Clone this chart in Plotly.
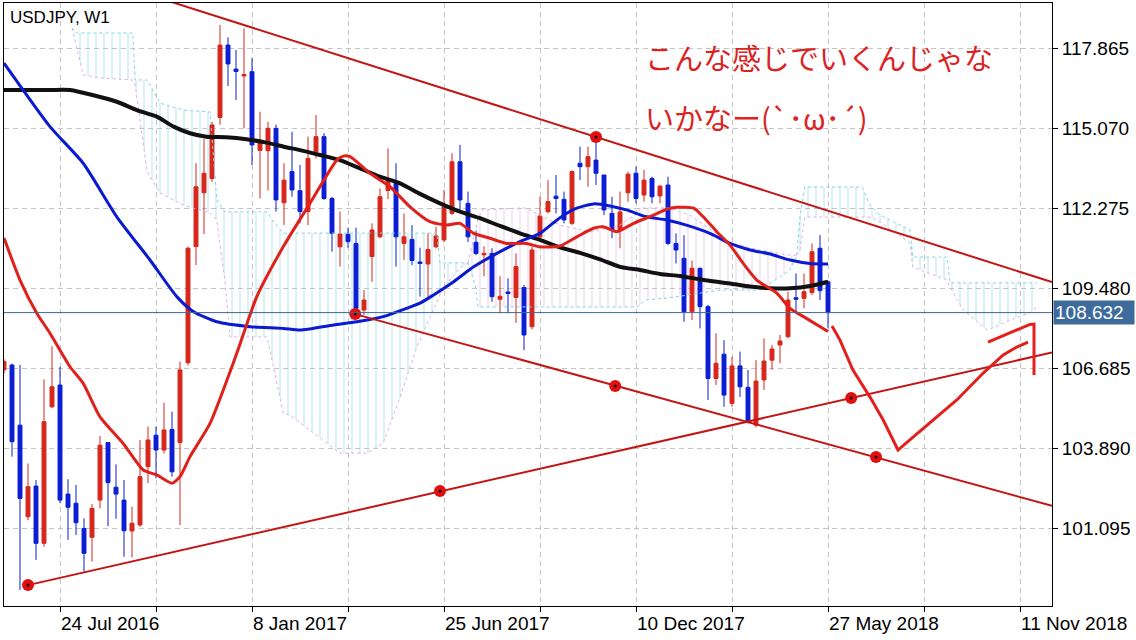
import plotly.graph_objects as go

# weekly bars, index 0 = week of 24 Jul 2016
bar_idx = list(range(-7, 97))
opens = [106.63, 106.80, 104.70, 101.50, 102.57, 100.57, 105.34,
         106.10, 102.29, 101.97, 101.09, 100.78, 102.08, 104.09, 102.53, 102.08, 101.00,
         101.21, 103.25, 104.35, 103.83, 104.55, 104.09, 106.88, 110.94, 112.82, 113.32,
         115.45, 117.98, 117.14, 116.90, 117.05, 114.30, 114.29, 115.07, 112.47, 113.56,
         112.89, 112.16, 114.25, 114.78, 112.62, 110.93, 111.37, 111.05, 108.72, 110.59,
         111.28, 112.90, 113.15, 111.05, 111.19, 110.40, 110.33, 110.93, 111.17, 112.10,
         113.90, 112.45, 111.09, 110.65, 110.70, 109.10, 109.35, 109.16, 109.51, 108.14,
         111.28, 112.16, 112.70, 112.59, 111.75, 113.85, 113.73, 113.96, 113.44, 112.10,
         111.52, 112.82, 113.50, 112.74, 113.32, 112.71, 113.09, 111.05, 110.53, 108.66,
         110.18, 108.84, 106.33, 107.18, 105.46, 106.77, 106.02, 104.70, 106.28, 106.97,
         107.50, 107.79, 109.15, 109.13, 109.33, 110.88, 109.71]
highs = [107.00, 106.85, 106.80, 103.36, 102.78, 106.30, 107.46,
         106.74, 102.81, 102.61, 101.44, 101.94, 104.32, 104.10, 103.33, 102.78, 101.85,
         104.18, 104.65, 104.65, 105.48, 105.17, 106.92, 110.94, 113.85, 114.70, 115.30,
         118.68, 118.25, 117.81, 118.56, 117.52, 115.65, 115.30, 115.20, 113.85, 114.95,
         113.79, 114.78, 115.54, 114.90, 112.68, 112.16, 111.60, 111.60, 109.42, 111.75,
         112.97, 114.37, 113.85, 112.10, 111.69, 110.90, 111.40, 111.63, 112.92, 114.20,
         114.49, 112.86, 111.50, 110.95, 110.88, 109.90, 109.83, 110.70, 109.60, 110.95,
         112.68, 113.26, 113.44, 112.86, 113.60, 114.43, 114.43, 114.77, 113.44, 112.68,
         112.86, 113.56, 113.73, 113.62, 113.38, 113.09, 113.38, 111.40, 111.34, 110.45,
         110.20, 108.90, 107.91, 107.67, 107.09, 107.27, 106.63, 106.97, 107.73, 107.50,
         107.85, 109.36, 110.00, 110.00, 111.05, 111.34, 109.75]
lows = [106.50, 103.60, 98.94, 101.38, 99.99, 100.45, 105.30,
        101.97, 100.69, 100.86, 99.58, 99.93, 101.79, 101.17, 101.43, 100.10, 100.08,
        101.15, 102.67, 102.84, 103.71, 102.90, 101.21, 106.79, 110.29, 111.38, 113.20,
        115.20, 116.55, 116.06, 115.07, 113.79, 112.62, 112.90, 112.16, 111.69, 112.68,
        111.75, 111.69, 114.02, 112.57, 110.76, 110.24, 110.90, 108.72, 108.55, 109.71,
        111.23, 112.60, 110.24, 110.47, 110.29, 109.19, 109.07, 110.88, 111.10, 112.04,
        112.22, 111.10, 110.64, 109.90, 109.01, 108.61, 108.61, 108.27, 107.32, 108.05,
        111.17, 112.10, 112.10, 111.75, 111.69, 113.26, 113.03, 113.09, 112.04, 111.23,
        110.88, 112.51, 112.45, 112.51, 112.45, 112.45, 110.99, 110.35, 108.31, 108.37,
        108.08, 105.58, 106.10, 105.34, 105.34, 105.69, 104.76, 104.62, 105.93, 106.63,
        106.86, 107.73, 108.65, 108.78, 109.25, 109.07, 108.10]
closes = [106.92, 104.12, 102.14, 102.55, 100.57, 104.82, 106.04,
          102.08, 101.83, 101.29, 100.22, 101.79, 104.00, 102.69, 102.29, 101.01, 101.27,
          102.90, 104.18, 103.83, 104.53, 103.07, 106.63, 110.88, 113.03, 113.50, 115.19,
          117.98, 117.32, 117.06, 116.95, 114.49, 114.60, 115.07, 112.57, 113.26, 112.92,
          112.16, 114.02, 114.78, 112.62, 111.40, 111.38, 111.11, 108.78, 109.07, 111.52,
          112.68, 113.30, 111.28, 111.28, 110.45, 110.35, 110.84, 111.31, 112.33, 113.90,
          112.57, 111.28, 110.70, 110.70, 109.19, 109.20, 109.30, 110.24, 107.85, 110.82,
          112.01, 112.51, 112.62, 111.87, 113.56, 113.73, 114.08, 113.50, 112.22, 111.52,
          112.15, 113.47, 112.62, 113.26, 112.68, 113.05, 111.05, 110.82, 108.66, 110.18,
          108.84, 106.33, 106.86, 105.75, 106.77, 106.04, 104.82, 106.24, 106.94, 107.36,
          107.64, 109.07, 109.10, 109.36, 110.76, 109.40, 108.632]

# moving averages
ma_red_x = [-7, -5, -2.9, -1.25, 1.25, 2.9, 5, 7.9, 10.4, 12.1, 14, 15, 16.25, 18.75,
            22.1, 24.6, 27.9, 31.25, 34.6, 35.4, 36.25, 38.75, 41.25, 43.75, 46.25, 48.3,
            50, 51.7, 53.75, 55.8, 58.3, 60, 62.5, 64.6, 66.7, 67.9, 69.6, 71.7, 74.2,
            75.8, 77.1, 79.2, 80.4, 82.1, 83.75, 85.4, 87.1, 89.6, 91.25, 93.3, 96]
ma_red_y = [111.24, 109.77, 108.61, 107.91, 106.74, 106.16, 104.99, 104.06, 103.13,
            102.96, 102.67, 102.90, 103.60, 104.76, 107.21, 109.19, 110.93, 112.45,
            113.96, 114.10, 114.08, 113.50, 113.03, 112.33, 111.81, 111.69, 111.75,
            111.40, 111.23, 111.05, 111.05, 110.93, 110.96, 111.28, 111.58, 111.63,
            111.46, 111.75, 112.04, 112.24, 112.31, 112.28, 111.98, 111.46, 110.99,
            110.35, 109.77, 109.31, 108.78, 108.43, 107.97]
ma_blue_x = [-7, -1.25, 2.9, 7.1, 11.25, 14.6, 16.7, 19.6, 23.75, 27.9, 30, 34.2, 37.1,
             40.4, 43.3, 45, 46.7, 49.2, 51.7, 54.6, 57.5, 60, 62.5, 64.6, 66.7, 68.75,
             70.8, 73.3, 75.8, 78.3, 81.25, 83.75, 86.25, 88.75, 91.25, 93.75, 96]
ma_blue_y = [117.35, 115.13, 113.85, 111.98, 110.47, 109.19, 108.66, 108.31, 108.14,
             108.08, 108.02, 108.20, 108.31, 108.49, 108.78, 108.96, 109.25, 109.71,
             110.23, 110.70, 111.11, 111.40, 111.95, 112.28, 112.43, 112.36, 112.22,
             111.98, 111.87, 111.69, 111.40, 111.05, 110.82, 110.68, 110.47, 110.35, 110.33]
ma_black_x = [-7, -1.25, 1.25, 7.1, 9.6, 12.1, 14.2, 16.25, 18.3, 20.8, 23.3, 25.8, 28.1,
              30, 32.5, 35, 37.5, 40, 42.5, 45, 47.5, 50, 52.5, 55, 57.5, 60, 62.5, 65,
              67.5, 70, 72.5, 75, 77.5, 80, 83.75, 86.25, 88.75, 91.25, 93.75, 96]
ma_black_y = [116.41, 116.41, 116.41, 116.00, 115.71, 115.48, 115.13, 114.90, 114.78,
              114.76, 114.69, 114.57, 114.42, 114.31, 114.14, 113.96, 113.67, 113.38,
              113.15, 112.78, 112.45, 112.16, 111.93, 111.66, 111.40, 111.17, 110.91,
              110.72, 110.49, 110.23, 110.12, 109.98, 109.91, 109.79, 109.65, 109.54,
              109.48, 109.48, 109.56, 109.71]

# ichimoku cloud: three regions, span A / span B
cloud1_x = [1.5, 2, 2.9, 5, 9.1, 9.4, 10.9, 12.5, 15.4, 18.75, 19.6, 20.6, 21.25, 25.9,
            26.5, 27.9, 28.75, 35, 38.4, 40.4, 42.5, 44.6, 46.25, 47.1, 47.5, 48.75, 50, 51]
cloud1_a = [118.58, 118.40, 118.40, 118.40, 118.40, 116.76, 116.76, 115.95, 115.71, 115.64,
            112.57, 112.15, 112.15, 112.15, 111.87, 111.41, 111.41, 111.41, 111.41, 111.41,
            111.41, 111.41, 111.41, 111.41, 110.37, 110.37, 110.37, 110.37]
cloud1_b = [118.58, 117.98, 116.94, 116.83, 116.76, 116.58, 113.54, 112.81, 112.39, 112.11,
            111.87, 109.77, 107.78, 107.78, 106.97, 105.12, 105.05, 103.72, 103.72, 104.07,
            105.68, 107.43, 108.48, 109.00, 109.25, 109.77, 110.19, 110.37]
cloud2_x = [51, 51.9, 52.25, 52.75, 58.1, 60, 62.5, 66.25, 70, 72.1, 72.5, 73.1, 76.25,
            78.75, 80, 82.5, 83.75, 87.5, 91.25, 92.1]
cloud2_b = [110.37, 111.52, 111.90, 112.22, 112.29, 112.04, 111.69, 111.45, 111.69, 112.10,
            112.29, 112.29, 112.29, 112.04, 111.80, 111.30, 111.06, 110.82, 110.64, 110.64]
cloud2_a = [110.37, 109.59, 108.83, 108.83, 108.83, 108.83, 108.83, 108.83, 108.83, 108.83,
            108.90, 109.07, 109.15, 109.25, 109.32, 109.42, 109.42, 109.42, 110.12, 110.64]
cloud3_x = [92.1, 92.5, 93.1, 100.25, 101.25, 102.5, 106.25, 106.6, 110.9, 111.25, 112.9,
            115.9, 118.75, 121.25, 122.1]
cloud3_a = [110.64, 112.00, 113.02, 113.02, 112.39, 112.04, 111.52, 110.57, 110.57, 109.67,
            109.67, 109.67, 109.67, 109.67, 109.67]
cloud3_b = [110.64, 110.80, 111.97, 111.97, 111.97, 111.80, 111.06, 110.22, 109.77, 109.52,
            108.72, 108.02, 108.37, 108.62, 108.83]

# trend lines: anchor points (bar, price)
upper_line_x = [13, 124]
upper_line_y = [119.57, 109.70]
lower_line_x = [36.9, 124]
lower_line_y = [108.58, 101.88]
rising_line_x = [-4.0, 124]
rising_line_y = [99.11, 107.24]
dot_x = [-4.0, 36.9, 47.5, 67.0, 69.4, 98.9, 102.0]
dot_y = [99.11, 108.58, 102.40, 114.77, 106.07, 105.65, 103.59]

# hand-drawn forecast strokes
fc1_x = [96.5, 97.5, 99.1, 101.25, 102.9, 104.75, 105.75, 108.75, 112.1, 115.4, 117.9, 119.6, 121]
fc1_y = [108.16, 107.67, 106.63, 105.68, 104.88, 103.83, 104.07, 104.77, 105.58, 106.52,
         107.15, 107.43, 107.60]
fc2_x = [116, 118.75, 121.25, 121.75, 121.75]
fc2_y = [107.60, 107.92, 108.22, 108.23, 106.45]

price_ticks = [117.865, 115.070, 112.275, 109.480, 106.685, 103.890, 101.095]
date_ticks = [0, 24, 48, 72, 96, 120]
date_labels = ['24 Jul 2016', '8 Jan 2017', '25 Jun 2017', '10 Dec 2017', '27 May 2018', '11 Nov 2018']
last_price = 108.632

RED = '#d7261b'
BLUE = '#0b1ed4'
CYAN = '#7fd4e2'
PINK = '#ddb0e2'
TREND = '#c41414'
GRID = '#c4c4c4'

fig = go.Figure()


def add_cloud(x, top, bot, fill_col, top_col, bot_col):
    fig.add_trace(go.Scatter(
        x=x + x[::-1], y=top + bot[::-1], fill='toself', mode='none',
        fillcolor='rgba(0,0,0,0)',
        fillpattern=dict(shape='|', fgcolor=fill_col, bgcolor='rgba(0,0,0,0)', size=8, solidity=0.15),
        hoverinfo='skip', showlegend=False))
    fig.add_trace(go.Scatter(x=x, y=top, mode='lines', line=dict(color=top_col, width=1, dash='dot'),
                             hoverinfo='skip', showlegend=False))
    fig.add_trace(go.Scatter(x=x, y=bot, mode='lines', line=dict(color=bot_col, width=1, dash='dot'),
                             hoverinfo='skip', showlegend=False))


add_cloud(cloud1_x, cloud1_a, cloud1_b, CYAN, CYAN, PINK)
add_cloud(cloud2_x, cloud2_b, cloud2_a, PINK, PINK, CYAN)
add_cloud(cloud3_x, cloud3_a, cloud3_b, CYAN, CYAN, PINK)

fig.add_trace(go.Candlestick(
    x=bar_idx, open=opens, high=highs, low=lows, close=closes,
    increasing=dict(line=dict(color=RED, width=1), fillcolor=RED),
    decreasing=dict(line=dict(color=BLUE, width=1), fillcolor=BLUE),
    whiskerwidth=0, showlegend=False, hoverinfo='skip'))

for xs, ys, col, w in [(ma_black_x, ma_black_y, '#111111', 4),
                       (ma_blue_x, ma_blue_y, '#0a1ad0', 3),
                       (ma_red_x, ma_red_y, '#e0201a', 3)]:
    fig.add_trace(go.Scatter(x=xs, y=ys, mode='lines', line=dict(color=col, width=w, shape='spline', smoothing=0.6),
                             hoverinfo='skip', showlegend=False))

for xs, ys in [(upper_line_x, upper_line_y), (lower_line_x, lower_line_y), (rising_line_x, rising_line_y)]:
    fig.add_trace(go.Scatter(x=xs, y=ys, mode='lines', line=dict(color=TREND, width=2),
                             hoverinfo='skip', showlegend=False))

for xs, ys in [(fc1_x, fc1_y), (fc2_x, fc2_y)]:
    fig.add_trace(go.Scatter(x=xs, y=ys, mode='lines', line=dict(color='#e3201e', width=3),
                             hoverinfo='skip', showlegend=False))

fig.add_trace(go.Scatter(x=dot_x, y=dot_y, mode='markers', marker=dict(size=12, color='#e01010'),
                         hoverinfo='skip', showlegend=False))
fig.add_trace(go.Scatter(x=dot_x, y=dot_y, mode='markers', marker=dict(size=3, color='#111111'),
                         hoverinfo='skip', showlegend=False))

fig.add_shape(type='line', xref='paper', x0=0, x1=1, yref='y', y0=last_price, y1=last_price,
              line=dict(color='#3e6890', width=1))

fig.add_annotation(xref='paper', yref='y', x=1, y=last_price, text=f'{last_price:.3f}', showarrow=False,
                   xanchor='left', xshift=1, bgcolor='#3c6b9c', borderpad=1, width=78, align='left',
                   font=dict(family='Liberation Sans, Arial', size=19, color='white'))
fig.add_annotation(xref='paper', yref='paper', x=0.004, y=0.995, text='USDJPY, W1', showarrow=False,
                   xanchor='left', yanchor='top', font=dict(family='Liberation Sans, Arial', size=17, color='black'))
fig.add_annotation(xref='paper', yref='paper', x=0.6097, y=0.9104, text='こんな感じでいくんじゃな',
                   showarrow=False, xanchor='left', yanchor='middle',
                   font=dict(family='Noto Sans CJK JP', size=29, color='#dc2222'))
fig.add_annotation(xref='paper', yref='paper', x=0.6097, y=0.811, text='いかなー(`･ω･´)',
                   showarrow=False, xanchor='left', yanchor='middle',
                   font=dict(family='Noto Sans CJK JP', size=29, color='#dc2222'))

fig.update_layout(
    width=1136, height=640,
    margin=dict(l=4, r=84, t=3, b=34),
    paper_bgcolor='white', plot_bgcolor='white',
    showlegend=False,
    xaxis=dict(range=[-7, 124], tickmode='array', tickvals=date_ticks, ticktext=date_labels,
               ticklabelposition='outside right', ticks='outside', ticklen=5, tickcolor='black',
               showgrid=True, gridcolor=GRID, griddash='5px,4px', gridwidth=1,
               minor=dict(dtick=12, tick0=0, showgrid=True, gridcolor=GRID, griddash='5px,4px',
                          ticks='outside', ticklen=5, tickcolor='black'),
               showline=True, mirror=True, linecolor='black', linewidth=1, zeroline=False,
               rangeslider=dict(visible=False), automargin=False,
               tickfont=dict(family='Liberation Sans, Arial', size=19, color='black')),
    yaxis=dict(range=[98.38, 119.45], side='right', tickmode='array', tickvals=price_ticks,
               tickformat='.3f', ticks='outside', ticklen=5, tickcolor='black',
               showgrid=True, gridcolor=GRID, griddash='5px,4px', automargin=False,
               showline=True, mirror=True, linecolor='black', linewidth=1, zeroline=False,
               tickfont=dict(family='Liberation Sans, Arial', size=19, color='black')),
)

# page body has a default 8px margin; remove it so the figure fills the window
fig.write_html('out.html', config={'displayModeBar': False},
               post_script="document.body.style.margin='0';")
